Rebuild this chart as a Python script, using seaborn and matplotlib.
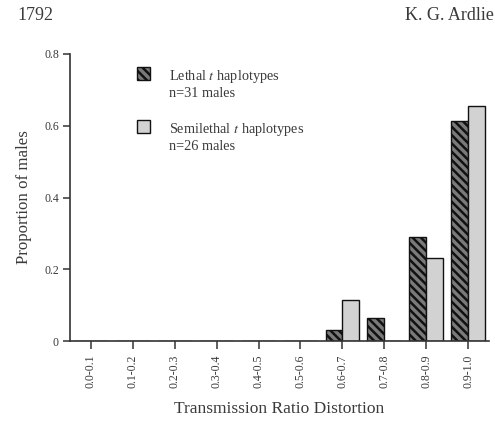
import matplotlib
matplotlib.use("Agg")
import matplotlib.pyplot as plt
import seaborn as sns
import pandas as pd
from matplotlib.patches import Rectangle

categories = ["0.0-0.1", "0.1-0.2", "0.2-0.3", "0.3-0.4", "0.4-0.5",
              "0.5-0.6", "0.6-0.7", "0.7-0.8", "0.8-0.9", "0.9-1.0"]
lethal = [0, 0, 0, 0, 0, 0, 0.032, 0.065, 0.29, 0.613]
semilethal = [0, 0, 0, 0, 0, 0, 0.115, 0.0, 0.231, 0.654]
series_names = ["Lethal", "Semilethal"]
yticks = [0, 0.2, 0.4, 0.6, 0.8]
ytick_labels = ["0", "0.2", "0.4", "0.6", "0.8"]

sns.set_theme(style="ticks")
plt.rcParams["font.family"] = ["Liberation Serif", "DejaVu Serif"]
plt.rcParams["mathtext.fontset"] = "stix"
plt.rcParams["hatch.linewidth"] = 1.8

df = pd.DataFrame({
    "cat": categories * 2,
    "val": lethal + semilethal,
    "series": [series_names[0]] * len(categories) + [series_names[1]] * len(categories),
})

fig = plt.figure(figsize=(4.95, 4.22), dpi=100)
ax = fig.add_axes([70 / 495, 1 - 341 / 422, 419 / 495, 287 / 422])

txt = "#3a3a3a"
sns.barplot(data=df, x="cat", y="val", hue="series", order=categories,
            hue_order=series_names, palette=["#7a7a7a", "#d2d2d2"],
            width=0.8, edgecolor="#111111", linewidth=1.0, saturation=1,
            legend=False, ax=ax)

for bar in ax.containers[0]:
    bar.set_hatch("\\\\\\\\")
for bar in ax.containers[1]:
    bar.set_hatch("")

ax.set_xlim(-0.5, 9.5)
ax.set_ylim(0, 0.8)
ax.set_yticks(yticks)
ax.set_yticklabels(ytick_labels, fontsize=8.5, color=txt)
ax.set_xticks(range(len(categories)))
ax.set_xticklabels(categories, rotation=90, fontsize=8.5, color=txt)
ax.tick_params(axis="both", direction="out", length=5, width=1.1, color="#333333", pad=3)
ax.tick_params(axis="x", length=6, pad=4)
sns.despine(ax=ax, top=True, right=True)
for s in ["left", "bottom"]:
    ax.spines[s].set_color("#333333")
    ax.spines[s].set_linewidth(1.2)

ax.set_xlabel("Transmission Ratio Distortion", fontsize=12.5, color=txt, labelpad=9)
ax.set_ylabel("Proportion of males", fontsize=12.2, color=txt, labelpad=9)

# legend (manual)
sw = 13 / 419
sh = 13 / 287
ax.add_patch(Rectangle((0.160, 0.909), sw, sh, transform=ax.transAxes,
                       facecolor="#7a7a7a", edgecolor="#111111", hatch="\\\\\\\\",
                       linewidth=1.0, clip_on=False))
ax.add_patch(Rectangle((0.160, 0.725), sw, sh, transform=ax.transAxes,
                       facecolor="#d2d2d2", edgecolor="#111111",
                       linewidth=1.0, clip_on=False))
fs = 10.3
ax.text(0.236, 0.921, "Lethal $\\it{t}$ haplotypes", transform=ax.transAxes,
        fontsize=fs, color=txt, va="center", ha="left")
ax.text(0.236, 0.862, "n=31 males", transform=ax.transAxes,
        fontsize=fs, color=txt, va="center", ha="left")
ax.text(0.236, 0.737, "Semilethal $\\it{t}$ haplotypes", transform=ax.transAxes,
        fontsize=fs, color=txt, va="center", ha="left")
ax.text(0.236, 0.677, "n=26 males", transform=ax.transAxes,
        fontsize=fs, color=txt, va="center", ha="left")

# page header
fig.text(17 / 495, 1 - 15 / 422, "1792", fontsize=13, color=txt, va="center", ha="left")
fig.text(405 / 495, 1 - 15 / 422, "K. G. Ardlie", fontsize=13, color=txt, va="center", ha="left")

fig.savefig("out.png", dpi=100)
